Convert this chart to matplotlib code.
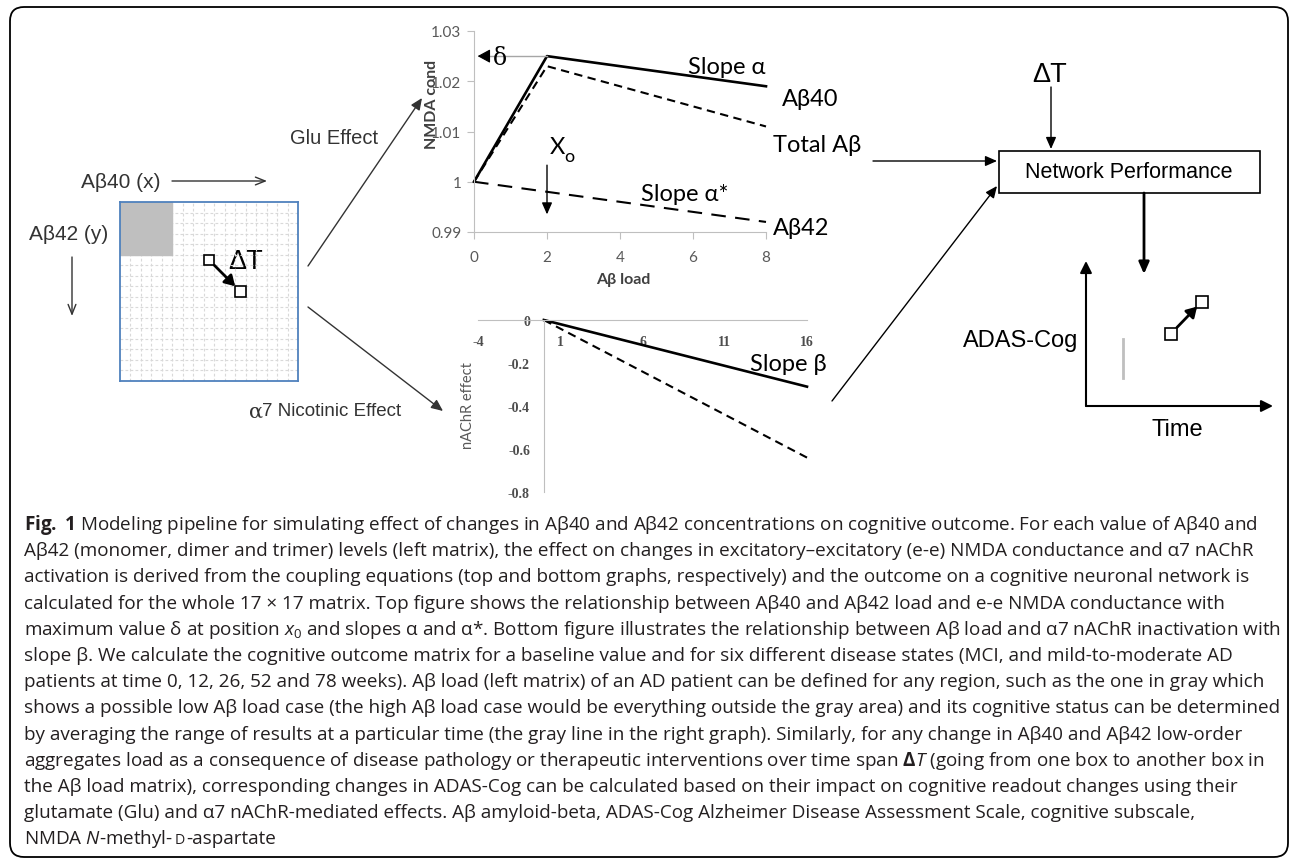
import matplotlib.pyplot as plt
from matplotlib.patches import Rectangle, FancyBboxPatch

plt.rcParams['font.family'] = ['Lato', 'DejaVu Sans']
plt.rcParams['axes.unicode_minus'] = False
plt.rcParams['mathtext.fontset'] = 'custom'
plt.rcParams['mathtext.rm'] = 'Open Sans'
plt.rcParams['mathtext.it'] = 'Open Sans:italic'
plt.rcParams['mathtext.bf'] = 'Open Sans:bold'

# top graph: e-e NMDA conductance against A-beta load
load_x = [0, 2, 8]
nmda_ab40 = [1.0, 1.025, 1.019]
nmda_total = [1.0, 1.023, 1.011]
load_x42 = [0, 8]
nmda_ab42 = [1.0, 0.992]
top_xticks = [0, 2, 4, 6, 8]
top_yticks = [0.99, 1.0, 1.01, 1.02, 1.03]
top_yticklabels = ['0.99', '1', '1.01', '1.02', '1.03']
x0_peak = 2
delta_peak = 1.025

# bottom graph: alpha7 nAChR effect
nachr_x = [0, 16]
nachr_beta = [0, -0.31]
nachr_dashed = [0, -0.64]
bot_xticks = [-4, 1, 6, 11, 16]
bot_yticks = [0, -0.2, -0.4, -0.6, -0.8]
bot_yticklabels = ['0', '-0.2', '-0.4', '-0.6', '-0.8']

# 17 x 17 load matrix, low-load block and the two boxes (col, row)
n_cells = 17
low_block = 5
box_cols = [8, 11]
box_rows = [5, 8]

# ADAS-Cog sketch (arbitrary units)
adas_time = [4.55, 6.2]
adas_score = [5.0, 7.2]
gray_time = 2
gray_range = [1.9, 4.6]

caption = [
    r"$\mathbf{Fig.}$ $\mathbf{1}$ Modeling pipeline for simulating effect of changes in Aβ40 and Aβ42 concentrations on cognitive outcome. For each value of Aβ40 and",
    "Aβ42 (monomer, dimer and trimer) levels (left matrix), the effect on changes in excitatory–excitatory (e-e) NMDA conductance and α7 nAChR",
    "activation is derived from the coupling equations (top and bottom graphs, respectively) and the outcome on a cognitive neuronal network is",
    "calculated for the whole 17 × 17 matrix. Top figure shows the relationship between Aβ40 and Aβ42 load and e-e NMDA conductance with",
    r"maximum value δ at position $\mathit{x}_\mathrm{0}$ and slopes α and α*. Bottom figure illustrates the relationship between Aβ load and α7 nAChR inactivation with",
    "slope β. We calculate the cognitive outcome matrix for a baseline value and for six different disease states (MCI, and mild-to-moderate AD",
    "patients at time 0, 12, 26, 52 and 78 weeks). Aβ load (left matrix) of an AD patient can be defined for any region, such as the one in gray which",
    "shows a possible low Aβ load case (the high Aβ load case would be everything outside the gray area) and its cognitive status can be determined",
    "by averaging the range of results at a particular time (the gray line in the right graph). Similarly, for any change in Aβ40 and Aβ42 low-order",
    r"aggregates load as a consequence of disease pathology or therapeutic interventions over time span $\mathbf{Δ}\mathit{T}$ (going from one box to another box in",
    "the Aβ load matrix), corresponding changes in ADAS-Cog can be calculated based on their impact on cognitive readout changes using their",
    "glutamate (Glu) and α7 nAChR-mediated effects. Aβ amyloid-beta, ADAS-Cog Alzheimer Disease Assessment Scale, cognitive subscale,",
]

W, H = 1292, 862
fig = plt.figure(figsize=(W / 100, H / 100), dpi=100)


def px_axes(left, top, right, bottom):
    ax = fig.add_axes([left / W, 1 - bottom / H, (right - left) / W, (bottom - top) / H])
    ax.patch.set_visible(False)
    return ax


# full-figure layer in pixel units for the schematic parts
ov = fig.add_axes([0, 0, 1, 1], zorder=0)
ov.set_xlim(0, W)
ov.set_ylim(H, 0)
ov.axis('off')


def arrow(x0, y0, x1, y1, style='-|>,head_length=0.5,head_width=0.22', lw=1.0, head=14, color='k'):
    ov.annotate('', xy=(x1, y1), xytext=(x0, y0),
                arrowprops=dict(arrowstyle=style, lw=lw, color=color,
                                mutation_scale=head, shrinkA=0, shrinkB=0))


ov.add_patch(FancyBboxPatch((10, 8), 1278, 850, boxstyle='round,pad=0,rounding_size=14',
                            fc='none', ec='k', lw=1.3))

arial = dict(family='Liberation Sans', color='#333333', va='center')
calib = dict(family=['Lato', 'DejaVu Sans'], color='k', va='center', fontsize=17)

# left: load matrix labels and arrows
ov.text(81, 183, 'Aβ40 (x)', fontsize=15, **arial)
arrow(172, 182, 267, 182, style='->,head_length=0.5,head_width=0.2', lw=1, head=14, color='#333333')
ov.text(29, 235, 'Aβ42 (y)', fontsize=15, **arial)
arrow(72, 258, 72, 317, style='->,head_length=0.5,head_width=0.2', lw=1, head=14, color='#333333')
ov.text(228, 262, 'ΔT', fontsize=19.5, family='Liberation Sans', color='k', va='center')

ov.text(290, 138, 'Glu Effect', fontsize=14.5, **arial)
arrow(308, 267, 422, 99, color='#333333')
ov.text(249, 412, 'α', fontsize=15, family='DejaVu Serif', color='#333333', va='center')
ov.text(262, 412, '7 Nicotinic Effect', fontsize=13.5, **arial)
arrow(308, 308, 443, 412, color='#333333')

# labels around the two graphs
ov.text(688, 68, 'Slope α', **calib)
ov.text(782, 99, 'Aβ40', **calib)
ov.text(773, 146, 'Total Aβ', **calib)
ov.text(641, 195, 'Slope α*', **calib)
ov.text(773, 229, 'Aβ42', **calib)
ov.text(557, 148, 'X', ha='center', **calib)
ov.text(569, 157, 'o', ha='center', fontsize=13, family='Lato', va='center')
ov.text(750, 365, 'Slope β', **calib)

# right: network performance block
ov.text(1050, 75, 'ΔT', fontsize=19.5, family='Liberation Sans', color='k', va='center', ha='center')
arrow(1051, 88, 1051, 150)
ov.add_patch(Rectangle((999, 152), 261, 42, fc='white', ec='k', lw=1.2))
ov.text(1129, 173, 'Network Performance', fontsize=15.5, family='Liberation Sans', color='k',
        va='center', ha='center')
arrow(873, 162, 997, 162)
arrow(832, 402, 997, 187)
arrow(1144, 194, 1144, 275, lw=2)

# top graph
ax1 = px_axes(474, 32, 766, 233)
ax1.plot(load_x, nmda_ab40, color='k', lw=1.9, clip_on=False)
ax1.plot(load_x, nmda_total, color='k', lw=1.5, dashes=(4, 2.6), clip_on=False)
ax1.plot(load_x42, nmda_ab42, color='k', lw=1.5, dashes=(7, 4.5), clip_on=False)
ax1.set_xlim(0, 8)
ax1.set_ylim(0.99, 1.03)
ax1.set_xticks(top_xticks)
ax1.set_yticks(top_yticks)
ax1.set_yticklabels(top_yticklabels)
for s in ('top', 'right'):
    ax1.spines[s].set_visible(False)
for s in ('left', 'bottom'):
    ax1.spines[s].set_color('#bfbfbf')
ax1.tick_params(length=5, color='#bfbfbf', labelcolor='#595959', labelsize=11)
ax1.tick_params(axis='x', pad=8)
ax1.tick_params(axis='y', pad=4)
ax1.set_xlabel('Aβ load', fontweight='bold', fontsize=11.5, color='#404040', va='center')
ax1.xaxis.set_label_coords(0.51, -0.234)
ax1.set_ylabel('NMDA cond', fontweight='bold', fontsize=11.5, color='#404040', va='center')
ax1.yaxis.set_label_coords(-0.144, 0.642)

# delta marker and x0 arrow
ax1.plot([x0_peak, 0.4], [delta_peak, delta_peak], color='#a6a6a6', lw=1, clip_on=False)
ax1.annotate('', xy=(0.1, delta_peak), xytext=(0.42, delta_peak),
             arrowprops=dict(arrowstyle='-|>,head_length=0.55,head_width=0.3', color='k', lw=0.8,
                             mutation_scale=14, shrinkA=0, shrinkB=0), annotation_clip=False)
ax1.text(0.72, delta_peak - 0.0002, 'δ', family='DejaVu Serif', fontsize=17, va='center', ha='center')
ax1.annotate('', xy=(x0_peak, 0.9935), xytext=(x0_peak, 1.0033),
             arrowprops=dict(arrowstyle='-|>,head_length=0.5,head_width=0.22', color='k', lw=1,
                             mutation_scale=14, shrinkA=0, shrinkB=0), annotation_clip=False)

# bottom graph
ax2 = px_axes(478, 321, 807, 493)
ax2.plot(nachr_x, nachr_beta, color='k', lw=1.9, clip_on=False)
ax2.plot(nachr_x, nachr_dashed, color='k', lw=1.5, dashes=(4, 2.6), clip_on=False)
ax2.set_xlim(-4, 16)
ax2.set_ylim(-0.8, 0)
ax2.spines['left'].set_position(('data', 0))
ax2.spines['bottom'].set_position(('data', 0))
for s in ('top', 'right'):
    ax2.spines[s].set_visible(False)
for s in ('left', 'bottom'):
    ax2.spines[s].set_color('#bfbfbf')
ax2.set_xticks(bot_xticks)
ax2.set_xticklabels([str(v) for v in bot_xticks])
ax2.set_yticks(bot_yticks)
ax2.set_yticklabels(bot_yticklabels)
ax2.tick_params(length=0, labelsize=10, labelcolor='#4d4d4d')
ax2.tick_params(axis='x', pad=10.5)
ax2.tick_params(axis='y', pad=10)
for lbl in ax2.get_xticklabels() + ax2.get_yticklabels():
    lbl.set_family('Liberation Serif')
    lbl.set_weight('bold')
ax2.set_ylabel('nAChR effect', fontsize=10.5, color='#595959', va='center')
ax2.yaxis.set_label_coords(-0.03, 0.506)

# load matrix
axm = px_axes(120, 203, 298, 382)
axm.set_xlim(0, n_cells)
axm.set_ylim(n_cells, 0)
axm.set_xticks([])
axm.set_yticks([])
for i in range(1, n_cells):
    axm.axvline(i, color='#d9d9d9', lw=0.8, ls=(0, (2.5, 2)), zorder=1)
    axm.axhline(i, color='#d9d9d9', lw=0.8, ls=(0, (2.5, 2)), zorder=1)
axm.add_patch(Rectangle((0, 0), low_block, low_block, color='#bfbfbf', zorder=2))
for c, r in zip(box_cols, box_rows):
    axm.add_patch(Rectangle((c, r), 1, 1, fc='white', ec='k', lw=1.2, zorder=4))
axm.annotate('', xy=(box_cols[1], box_rows[1]), xytext=(box_cols[0] + 1, box_rows[0] + 1),
             arrowprops=dict(arrowstyle='-|>,head_length=0.5,head_width=0.3', lw=2, color='k',
                             mutation_scale=12, shrinkA=0, shrinkB=0), zorder=3)
for s in axm.spines.values():
    s.set_color('#4f81bd')
    s.set_linewidth(1.3)

# ADAS-Cog against time
axa = px_axes(1086, 262, 1273, 407)
axa.set_xlim(0, 10)
axa.set_ylim(0, 10)
axa.set_xticks([])
axa.set_yticks([])
for s in axa.spines.values():
    s.set_visible(False)
for tip in [(0, 1), (1, 0)]:
    axa.annotate('', xy=tip, xytext=(0, 0), xycoords='axes fraction',
                 arrowprops=dict(arrowstyle='-|>,head_length=0.5,head_width=0.25', lw=1.5, color='k',
                                 mutation_scale=14, shrinkA=0, shrinkB=0))
axa.plot([gray_time, gray_time], gray_range, color='#bfbfbf', lw=2)
axa.annotate('', xy=(adas_time[1], adas_score[1]), xytext=(adas_time[0], adas_score[0]),
             arrowprops=dict(arrowstyle='-|>,head_length=0.5,head_width=0.3', lw=2, color='k',
                             mutation_scale=12, shrinkA=6, shrinkB=5))
axa.plot(adas_time, adas_score, 's', ms=8, mfc='white', mec='k', mew=1.2, zorder=5)
axa.set_ylabel('ADAS-Cog', rotation=0, ha='right', va='center', fontsize=17,
               family='Liberation Sans', color='k')
axa.yaxis.set_label_coords(-0.043, 0.455)
axa.set_xlabel('Time', va='center', fontsize=17, family='Liberation Sans', color='k')
axa.xaxis.set_label_coords(0.49, -0.159)

# caption, sized so the longest line fills the panel width
renderer = fig.canvas.get_renderer()
cap_kw = dict(family='Open Sans', color='#231f20', va='baseline', ha='left')
probe = ov.text(0, 0, caption[7], fontsize=10, **cap_kw)
cap_size = 10 * 1253 / probe.get_window_extent(renderer).width
probe.remove()
cap_x, cap_y, cap_step = 24, 530, 26.2
for i, line in enumerate(caption):
    ov.text(cap_x, cap_y + cap_step * i, line, fontsize=cap_size, **cap_kw)

# last caption line with italic N and small-capital D
y_last = cap_y + cap_step * len(caption)
x = cap_x
t = ov.text(x, y_last, r'NMDA $\mathit{N}$-methyl-', fontsize=cap_size, **cap_kw)
x += t.get_window_extent(renderer).width + 1.5
t = ov.text(x, y_last, 'D', fontsize=cap_size * 0.75, **cap_kw)
x += t.get_window_extent(renderer).width + 1.5
ov.text(x, y_last, '-aspartate', fontsize=cap_size, **cap_kw)

fig.savefig('out.png', dpi=100)
